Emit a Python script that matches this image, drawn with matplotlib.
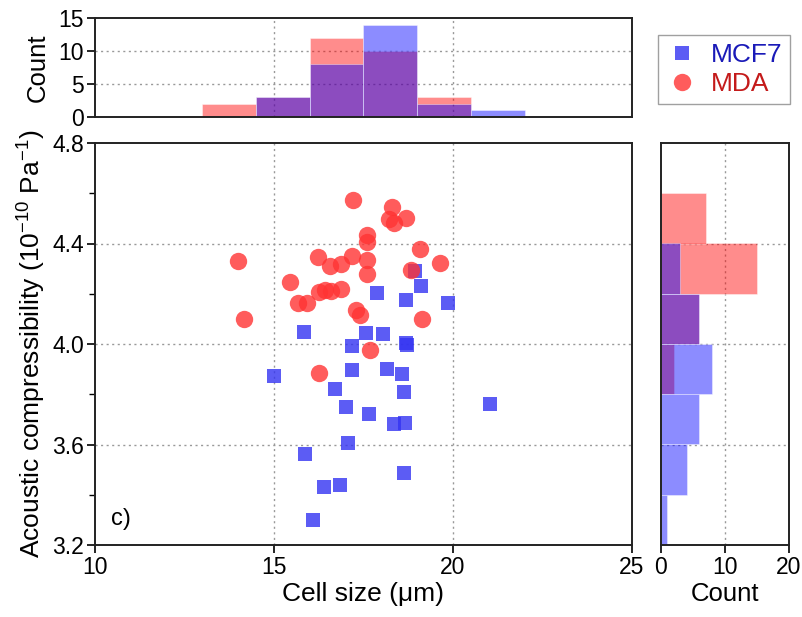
import numpy as np
import matplotlib
matplotlib.use("Agg")
import matplotlib.pyplot as plt
from matplotlib.ticker import MultipleLocator

plt.rcParams['font.family'] = ['Liberation Sans', 'DejaVu Sans']
plt.rcParams['mathtext.fontset'] = 'custom'
plt.rcParams['mathtext.rm'] = 'Liberation Sans'
plt.rcParams['mathtext.it'] = 'Liberation Sans'

# cell size (um) and acoustic compressibility (1e-10 / Pa)
mcf7_size = [15.83, 15.01, 17.19, 17.17, 18.94, 19.10, 17.87, 18.69, 19.87, 17.58,
             18.05, 18.68, 18.71, 18.17, 18.57, 16.70, 18.64, 17.00, 17.64, 18.36,
             18.67, 21.02, 17.07, 18.64, 16.40, 16.83, 15.86, 16.09]
mcf7_comp = [4.048, 3.872, 3.992, 3.898, 4.291, 4.230, 4.201, 4.177, 4.164, 4.042,
             4.039, 4.004, 3.996, 3.902, 3.882, 3.821, 3.808, 3.750, 3.723, 3.682,
             3.686, 3.763, 3.604, 3.486, 3.431, 3.439, 3.564, 3.298]

mda_size = [17.22, 14.00, 14.15, 15.44, 15.68, 15.91, 16.24, 16.56, 16.86, 17.17,
            16.27, 16.42, 16.58, 16.86, 17.28, 17.40, 16.26, 18.29, 18.20, 18.34,
            18.68, 17.61, 17.61, 19.08, 17.61, 17.61, 19.65, 18.82, 19.13, 17.69]
mda_comp = [4.573, 4.329, 4.098, 4.245, 4.164, 4.164, 4.347, 4.311, 4.317, 4.350,
            4.206, 4.214, 4.210, 4.218, 4.137, 4.117, 3.885, 4.544, 4.496, 4.482,
            4.500, 4.433, 4.405, 4.380, 4.334, 4.277, 4.323, 4.294, 4.099, 3.975]

size_bins = [13, 14.5, 16, 17.5, 19, 20.5, 22]
comp_bins = [3.2, 3.4, 3.6, 3.8, 4.0, 4.2, 4.4, 4.6]

blue = '#3333f2'
red = '#ff3333'
grid_kw = dict(color='#999999', linestyle=(0, (1.5, 2.5)), linewidth=1.0)

fig = plt.figure(figsize=(8.03, 6.17), dpi=100)
W, H = 803, 617

def box(l, t, r, b):
    return [l / W, 1 - b / H, (r - l) / W, (b - t) / H]

ax = fig.add_axes(box(95, 143, 632, 545))
ax_top = fig.add_axes(box(95, 18, 632, 117), sharex=ax)
ax_right = fig.add_axes(box(661, 143, 789, 545), sharey=ax)

# main scatter
ax.plot(mcf7_size, mcf7_comp, 's', color=blue, alpha=0.8, markersize=10,
        markeredgewidth=0, label='MCF7', zorder=3)
ax.plot(mda_size, mda_comp, 'o', color=red, alpha=0.8, markersize=12.5,
        markeredgewidth=0, label='MDA', zorder=3)
ax.set_xlim(10, 25)
ax.set_ylim(3.2, 4.8)
ax.set_xticks([10, 15, 20, 25])
ax.set_yticks([3.2, 3.6, 4.0, 4.4, 4.8])
ax.set_yticklabels(['3.2', '3.6', '4.0', '4.4', '4.8'])
ax.yaxis.set_minor_locator(MultipleLocator(0.2))
for v in [15, 20]:
    ax.axvline(v, **grid_kw, zorder=1)
for v in [3.6, 4.0, 4.4]:
    ax.axhline(v, **grid_kw, zorder=1)
ax.set_xlabel('Cell size (μm)', fontsize=19, labelpad=2)
ax.set_ylabel('Acoustic compressibility (10$^{-10}$ Pa$^{-1}$)', fontsize=19, labelpad=3)
ax.text(0.03, 0.05, 'c)', transform=ax.transAxes, fontsize=17)

# top histogram
ax_top.hist(mda_size, bins=size_bins, color='red', alpha=0.45, edgecolor='white', linewidth=0.6, zorder=2)
ax_top.hist(mcf7_size, bins=size_bins, color='blue', alpha=0.45, edgecolor='white', linewidth=0.6, zorder=2)
ax_top.set_ylim(0, 15)
ax_top.set_yticks([0, 5, 10, 15])
for v in [15, 20]:
    ax_top.axvline(v, **grid_kw, zorder=1)
for v in [5, 10]:
    ax_top.axhline(v, **grid_kw, zorder=1)
ax_top.tick_params(axis='x', bottom=False, labelbottom=False)
ax_top.set_ylabel('Count', fontsize=18.5, labelpad=6)

# right histogram
ax_right.hist(mda_comp, bins=comp_bins, orientation='horizontal', color='red', alpha=0.45,
              edgecolor='white', linewidth=0.6, zorder=2)
ax_right.hist(mcf7_comp, bins=comp_bins, orientation='horizontal', color='blue', alpha=0.45,
              edgecolor='white', linewidth=0.6, zorder=2)
ax_right.set_xlim(0, 20)
ax_right.set_xticks([0, 10, 20])
ax_right.axvline(10, **grid_kw, zorder=1)
for v in [3.6, 4.0, 4.4]:
    ax_right.axhline(v, **grid_kw, zorder=1)
ax_right.tick_params(axis='y', which='both', left=False, labelleft=False)
ax_right.set_xlabel('Count', fontsize=18.5, labelpad=2)

for a in [ax, ax_top, ax_right]:
    for s in a.spines.values():
        s.set_linewidth(1.4)
        s.set_color('#222222')
    a.tick_params(which='major', direction='out', length=6, width=1.2, labelsize=16.5, pad=2)
    a.tick_params(which='minor', direction='out', length=4, width=1.0)

leg = fig.legend(loc='upper left', bbox_to_anchor=(658 / W, 1 - 35 / H), fontsize=19,
                 frameon=True, fancybox=False, edgecolor='#888888', handletextpad=0.5,
                 borderpad=0.3, handlelength=1.2, labelspacing=0.2, borderaxespad=0)
for t, c in zip(leg.get_texts(), ['#1a1ab8', '#c41a1a']):
    t.set_color(c)

fig.savefig('out.png', dpi=100)
